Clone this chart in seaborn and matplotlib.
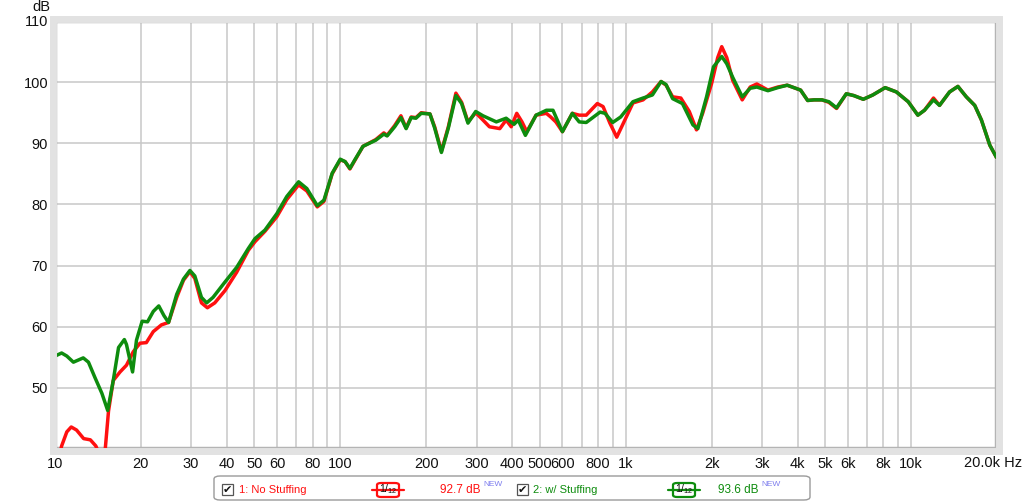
import numpy as np
import pandas as pd
import matplotlib
matplotlib.use("Agg")
import matplotlib.pyplot as plt
import matplotlib.patches as mpatches
import seaborn as sns

# Measured response, 1: No Stuffing (red)
red_freq = [10.3, 10.55, 11.0, 11.4, 11.9, 12.6, 13.3, 13.9, 14.2, 14.7, 15.0, 15.4, 16.0, 16.9,
            17.8, 18.8, 19.85, 20.9, 22.1, 23.6, 25.0, 26.7, 28.2, 29.7, 30.9, 32.6, 34.2, 36.3,
            39.4, 43.3, 47.6, 50.2, 54.4, 59.9, 64.9, 71.4, 76.3, 83.0, 87.6, 93.6, 99.9, 103.9,
            108, 112.4, 120, 133, 142, 145.8, 155, 163, 170, 177, 184, 192, 206, 214, 226, 239,
            254, 266, 280, 298, 316, 333, 362, 381, 397, 415, 433, 450, 485, 527, 546, 569, 600,
            650, 687, 727, 795, 833, 880, 930, 1005, 1060, 1150, 1240, 1330, 1385, 1460, 1560,
            1670, 1770, 1860, 2000, 2100, 2170, 2260, 2370, 2560, 2730, 2880, 3150, 3410, 3680,
            4100, 4340, 4570, 4870, 5150, 5480, 5930, 6300, 6800, 7340, 8110, 8880, 9770, 10560,
            11140, 11980, 12580, 13640, 14590, 15610, 16710, 17640, 18870, 19910]
red_db = [38.5, 40.5, 42.8, 43.6, 43.1, 41.7, 41.5, 40.5, 39.5, 38.5, 40.0, 46.2, 51.2, 52.6,
          53.7, 55.9, 57.3, 57.4, 59.2, 60.3, 60.7, 64.8, 67.6, 69.0, 67.9, 63.9, 63.1, 63.9,
          65.9, 68.9, 72.5, 73.9, 75.6, 78.0, 80.8, 83.2, 82.2, 79.6, 80.5, 85.0, 87.3, 87.0,
          85.8, 87.2, 89.5, 90.6, 91.7, 91.3, 92.9, 94.5, 92.5, 94.3, 94.2, 95.0, 94.8, 92.7, 88.7, 92.7,
          98.2, 96.7, 93.5, 95.0, 93.8, 92.7, 92.4, 93.8, 92.7, 94.9, 93.5, 91.9, 94.6, 94.9, 94.3, 93.5, 91.9,
          94.9, 94.6, 94.6, 96.5, 96.0, 93.3, 91.0, 94.3, 96.6, 97.1, 98.4, 100.1, 99.5, 97.6, 97.4,
          95.2, 92.2, 94.9, 99.8, 104.0, 105.8, 104.0, 100.3, 97.1, 99.2, 99.7, 98.7, 99.2, 99.5,
          98.7, 97.0, 97.1, 97.1, 96.7, 95.7, 98.1, 97.8, 97.2, 97.9, 99.1, 98.4, 96.8, 94.6,
          95.4, 97.4, 96.2, 98.4, 99.3, 97.6, 96.2, 93.8, 89.7, 87.7]

# Measured response, 2: w/ Stuffing (green)
green_freq = [10.0, 10.55, 11.0, 11.6, 12.56, 13.1, 13.8, 14.6, 15.3, 16.0, 16.7, 17.5, 17.8,
              18.7, 19.3, 20.2, 21.1, 22.1, 23.1, 24.1, 25.0, 26.7, 28.2, 29.7, 30.9, 32.6, 34.0,
              35.8, 39.4, 43.3, 47.6, 50.2, 54.4, 59.9, 64.9, 71.4, 76.3, 83.0, 87.6, 93.6, 99.9,
              103.9, 108, 112.4, 120, 133, 142, 145.8, 155, 163, 170, 177, 184, 192, 206, 214, 226,
              239, 254, 266, 280, 298, 316, 352, 381, 406, 420, 445, 485, 527, 556, 600, 650, 687,
              727, 813, 846, 900, 960, 1060, 1150, 1240, 1330, 1385, 1460, 1580, 1720, 1790, 1920,
              2030, 2170, 2260, 2370, 2560, 2730, 2880, 3150, 3410, 3680, 4100, 4340, 4570, 4870,
              5150, 5480, 5930, 6300, 6800, 7340, 8110, 8880, 9770, 10560, 11140, 11980, 12580,
              13640, 14590, 15610, 16710, 17640, 18870, 19910]
green_db = [55.2, 55.7, 55.2, 54.2, 54.9, 54.2, 51.7, 49.1, 46.3, 51.2, 56.6, 57.9, 57.1,
            52.6, 57.8, 60.9, 60.8, 62.5, 63.4, 61.8, 60.7, 65.3, 67.8, 69.2, 68.3, 64.8, 63.9,
            64.8, 67.3, 69.7, 72.8, 74.4, 75.8, 78.5, 81.3, 83.7, 82.6, 79.8, 80.7, 85.1, 87.4,
            87.0, 85.9, 87.3, 89.5, 90.5, 91.5, 91.2, 92.7, 94.2, 92.4, 94.2, 94.1, 94.9, 94.8, 92.5, 88.5,
            92.5, 97.8, 96.5, 93.3, 95.2, 94.5, 93.5, 94.1, 93.1, 93.8, 91.3, 94.6, 95.4, 95.4, 91.9, 94.9, 93.5,
            93.4, 95.1, 94.9, 93.4, 94.3, 96.8, 97.4, 97.9, 100.1, 99.6, 97.3, 96.5, 93.0, 92.4, 97.6,
            102.5, 104.2, 103.0, 100.8, 97.6, 99.0, 99.2, 98.6, 99.1, 99.5, 98.7, 97.0, 97.1, 97.1,
            96.8, 95.8, 98.1, 97.8, 97.2, 97.9, 99.1, 98.4, 96.8, 94.6, 95.4, 97.1, 96.2,
            98.4, 99.3, 97.6, 96.2, 93.8, 89.7, 87.7]

x_ticks = [10, 20, 30, 40, 50, 60, 80, 100, 200, 300, 400, 500, 600, 800,
           1000, 2000, 3000, 4000, 5000, 6000, 8000, 10000, 20000]
x_labels = ["10", "20", "30", "40", "50", "60", "80", "100", "200", "300", "400", "500", "600", "800",
            "1k", "2k", "3k", "4k", "5k", "6k", "8k", "10k", ""]
x_minor = [70, 90, 700, 900, 7000, 9000]
y_ticks = [40, 50, 60, 70, 80, 90, 100, 110]
y_labels = ["", "50", "60", "70", "80", "90", "100", "110"]

df = pd.concat([
    pd.DataFrame({"freq": red_freq, "db": red_db, "trace": "1: No Stuffing"}),
    pd.DataFrame({"freq": green_freq, "db": green_db, "trace": "2: w/ Stuffing"}),
])

sns.set_theme(style="white")
plt.rcParams["font.family"] = ["Liberation Sans", "DejaVu Sans"]

W, H = 1024, 504
fig = plt.figure(figsize=(W / 100, H / 100), dpi=100)
ax = fig.add_axes([55 / W, 1 - 449 / H, 942 / W, 428 / H])

sns.lineplot(data=df, x="freq", y="db", hue="trace", sort=False, estimator=None,
             palette={"1: No Stuffing": "#ff1010", "2: w/ Stuffing": "#0e8c0e"},
             linewidth=2.5, legend=False, ax=ax, zorder=3)
for ln in ax.lines:
    ln.set_solid_joinstyle("round")
    ln.set_solid_capstyle("round")

ax.set_xscale("log")
ax.set_xlim(10, 20000)
ax.set_ylim(40, 110)
ax.set_xticks(x_ticks)
ax.set_xticklabels(x_labels)
ax.set_xticks(x_minor, minor=True)
ax.set_xticklabels([], minor=True)
ax.set_yticks(y_ticks)
ax.set_yticklabels(y_labels)
ax.grid(True, which="both", color="#c8c8c8", linewidth=1.1)
ax.tick_params(axis="both", which="both", length=0, labelsize=10.5, colors="#111111")
ax.tick_params(axis="x", pad=6)
ax.tick_params(axis="y", pad=5)
ax.set_xlabel("")
ax.set_ylabel("")
for sp in ax.spines.values():
    sp.set_color("#b4b4b4")
    sp.set_linewidth(3.2)

# soft shadow round the plot frame
shadow = mpatches.Rectangle((53 / W, 1 - 451 / H), 946 / W, 432 / H, transform=fig.transFigure,
                            fill=False, edgecolor="#e2e2e2", linewidth=5, zorder=0)
fig.patches.append(shadow)

fig.text(50 / W, 1 - 7 / H, "dB", ha="right", va="center", fontsize=10.5, color="#111111")
fig.text(1022 / W, 1 - 463 / H, "20.0k Hz", ha="right", va="center", fontsize=10.5, color="#111111")

# legend strip at the bottom
box = mpatches.FancyBboxPatch((214 / W, 1 - 500 / H), 596 / W, 24 / H, transform=fig.transFigure,
                              boxstyle="round,pad=0,rounding_size=0.006", facecolor="white",
                              edgecolor="#9a9a9a", linewidth=1.0)
fig.patches.append(box)

ty = 1 - 490 / H
for cx in (222, 517):
    fig.patches.append(mpatches.Rectangle((cx / W, 1 - 495 / H), 11 / W, 11 / H, transform=fig.transFigure,
                                          facecolor="white", edgecolor="#555555", linewidth=0.9))
    fig.text((cx + 5.5) / W, ty, "\u2714", ha="center", va="center", fontsize=8,
             family="DejaVu Sans", color="#111111")

for lx, name, col in ((239, "1: No Stuffing", "#ff1010"), (533, "2: w/ Stuffing", "#0e8c0e")):
    fig.text(lx / W, ty, name, ha="left", va="center", fontsize=8, color=col)

for ix, col in ((372, "#ff1010"), (668, "#0e8c0e")):
    fig.lines.append(plt.Line2D([ix / W, (ix + 32) / W], [ty, ty], transform=fig.transFigure,
                                color=col, linewidth=1.6))
    icon = mpatches.FancyBboxPatch(((ix + 5) / W, 1 - 497 / H), 22 / W, 14 / H, transform=fig.transFigure,
                                   boxstyle="round,pad=0,rounding_size=0.004", facecolor="white",
                                   edgecolor=col, linewidth=1.6)
    fig.patches.append(icon)
    fig.text((ix + 16) / W, ty + 1 / H, r"$\mathregular{1/_{12}}$", ha="center", va="center",
             fontsize=7.5, color="#111111")

for vx, col, val in ((440, "#ff1010", "92.7 dB"), (718, "#0e8c0e", "93.6 dB")):
    fig.text(vx / W, ty, val, ha="left", va="center", fontsize=8.5, color=col)
    fig.text((vx + 43) / W, 1 - 485 / H, "NEW", ha="left", va="center", fontsize=6, color="#7f7fee")

fig.savefig("out.png", dpi=100, facecolor="white")
